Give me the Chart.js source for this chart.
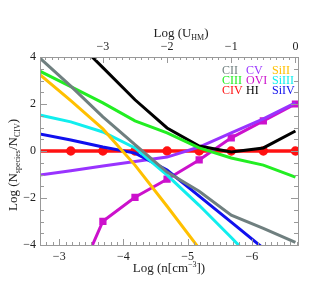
<!DOCTYPE html>
<html>
<head>
<meta charset="utf-8">
<script src="https://cdn.jsdelivr.net/npm/chart.js@4/dist/chart.umd.min.js"></script>
<style>
  html, body { margin: 0; padding: 0; background: #fff; }
  #wrap { width: 330px; height: 284px; }
</style>
</head>
<body>
<div id="wrap"><canvas id="chart"></canvas></div>
<script>
// Log U grid the curves are sampled on
const logU = [-4, -3.5, -3, -2.5, -2, -1.5, -1, -0.5, 0];

const cII   = [4.0, 2.76, 1.45, 0.27, -0.9, -1.71, -2.73, -3.29, -3.89];
const cIII  = [3.42, 2.74, 2.05, 1.28, 0.77, 0.13, -0.3, -0.6, -1.11];
const cIV   = [0, 0, 0, 0, 0, 0, 0, 0, 0];
const cV    = [-1.03, -0.84, -0.64, -0.45, -0.26, 0.17, 0.77, 1.37, 2.05];
const oVI   = [null, -6.1, -2.99, -1.97, -1.2, -0.38, 0.56, 1.28, 2.0];
const hI    = [null, 4.9, 3.55, 2.18, 0.98, 0.21, -0.04, 0.13, 0.85];
const siII  = [3.29, 2.14, 0.94, -0.6, -2.35, -4.15, null, null, null];
const siIII = [1.54, 1.24, 0.81, 0.13, -1.03, -2.31, -3.68, -5.1, null];
const siIV  = [0.73, 0.47, 0.17, -0.09, -0.81, -1.92, -3.03, -4.14, null];

const nTicks = [-3, -4, -5, -6];
const uTicks = [-3, -2, -1, 0];
const yTicks = [-4, -2, 0, 2, 4];

const serif = '"Liberation Serif", "DejaVu Serif", serif';
const frame = '#999999';

function pts(vals) {
  return logU.map((u, i) => ({ x: u, y: vals[i] }));
}
function minus(v) {
  return v < 0 ? '\u2212' + Math.abs(v) : String(v);
}

const series = [
  { label: 'CII', data: cII, color: '#6f7f7f' },
  { label: 'CIII', data: cIII, color: '#22ee22' },
  { label: 'SiII', data: siII, color: '#ffc000' },
  { label: 'SiIII', data: siIII, color: '#11eeee' },
  { label: 'SiIV', data: siIV, color: '#1010ee' },
  { label: 'HI', data: hI, color: '#000000' },
  { label: 'CV', data: cV, color: '#9933ff' },
  { label: 'OVI', data: oVI, color: '#cc11cc', marker: 'rect' },
  { label: 'CIV', data: cIV, color: '#ff1111', marker: 'circle' }
];

const datasets = series.map(s => ({
  label: s.label,
  data: pts(s.data),
  xAxisID: 'u',
  yAxisID: 'y',
  borderColor: s.color,
  backgroundColor: s.color,
  borderWidth: s.label === 'CIV' ? 3.5 : 3,
  pointStyle: s.marker || 'circle',
  pointRadius: s.marker ? logU.map((u, i) => (s.label === 'CIV' && i === 0) || s.data[i] === null ? 0 : 3) : 0,
  pointHoverRadius: 0,
  tension: 0,
  spanGaps: false
}));

// inward minor/major ticks, frame, titles and legend
const decor = {
  id: 'decor',
  afterDraw(chart) {
    const { ctx, chartArea: a } = chart;
    const sy = chart.scales.y, sn = chart.scales.n, su = chart.scales.u;
    ctx.save();
    ctx.strokeStyle = frame;
    ctx.lineWidth = 1;
    ctx.beginPath();
    for (let k = -8; k <= 8; k++) {
      const v = k / 2;
      const p = Math.round(sy.getPixelForValue(v)) + 0.5;
      const len = k % 4 === 0 ? 7 : 4;
      ctx.moveTo(a.left, p); ctx.lineTo(a.left + len, p);
      ctx.moveTo(a.right, p); ctx.lineTo(a.right - len, p);
    }
    for (let k = -67; k <= -27; k++) {
      const p = Math.round(sn.getPixelForValue(k / 10)) + 0.5;
      const len = k % 10 === 0 ? 6 : 3;
      ctx.moveTo(p, a.bottom); ctx.lineTo(p, a.bottom - len);
    }
    for (let k = -39; k <= 0; k++) {
      const p = Math.round(su.getPixelForValue(k / 10)) + 0.5;
      const len = k % 10 === 0 ? 6 : 3;
      ctx.moveTo(p, a.top); ctx.lineTo(p, a.top + len);
    }
    ctx.stroke();
    ctx.strokeRect(a.left + 0.5, a.top + 0.5, a.right - a.left, a.bottom - a.top);

    // axis titles
    ctx.fillStyle = '#222';
    ctx.textBaseline = 'alphabetic';
    function run(parts, x, y) {
      let cx = x;
      parts.forEach(([t, kind]) => {
        const size = kind ? 8 : 13;
        ctx.font = size + 'px ' + serif;
        const dy = kind === 'sub' ? 3 : kind === 'sup' ? -5 : 0;
        ctx.fillText(t, cx, y + dy);
        cx += ctx.measureText(t).width;
      });
      return cx - x;
    }
    function width(parts) {
      let w = 0;
      parts.forEach(([t, kind]) => {
        ctx.font = (kind ? 8 : 13) + 'px ' + serif;
        w += ctx.measureText(t).width;
      });
      return w;
    }
    ctx.textAlign = 'left';
    const top = [['Log (U'], ['HM', 'sub'], [')']];
    run(top, 181 - width(top) / 2, 37);
    const bot = [['Log (n[cm'], ['\u22123', 'sup'], ['])']];
    run(bot, 169 - width(bot) / 2, 272);
    const left = [['Log (N'], ['species', 'sub'], ['/N'], ['CIV', 'sub'], [')']];
    ctx.save();
    ctx.translate(17, 165);
    ctx.rotate(-Math.PI / 2);
    run(left, -width(left) / 2, 0);
    ctx.restore();

    // legend
    ctx.font = '12px ' + serif;
    const cols = [222, 246, 272];
    const rows = [74, 84, 94];
    const grid = [['CII', 'CV', 'SiII'], ['CIII', 'OVI', 'SiIII'], ['CIV', 'HI', 'SiIV']];
    grid.forEach((r, ri) => r.forEach((name, ci) => {
      ctx.fillStyle = series.find(s => s.label === name).color;
      ctx.fillText(name, cols[ci], rows[ri]);
    }));
    ctx.restore();
  }
};

new Chart(document.getElementById('chart'), {
  type: 'line',
  data: { datasets },
  options: {
    responsive: true,
    maintainAspectRatio: false,
    animation: false,
    layout: { padding: { left: 0, right: 32, top: 0, bottom: 0 } },
    plugins: { legend: { display: false }, tooltip: { enabled: false } },
    scales: {
      n: {
        type: 'linear', position: 'bottom', min: -6.72, max: -2.7, reverse: true,
        grid: { display: false, drawTicks: false }, border: { display: false },
        afterBuildTicks: s => { s.ticks = nTicks.map(v => ({ value: v })); },
        afterFit: s => { s.height = 39; },
        ticks: { padding: 5, color: '#222', font: { family: serif, size: 12 }, callback: v => minus(v), maxRotation: 0 }
      },
      u: {
        type: 'linear', position: 'top', min: -3.98, max: 0.04,
        grid: { display: false, drawTicks: false }, border: { display: false },
        afterBuildTicks: s => { s.ticks = uTicks.map(v => ({ value: v })); },
        afterFit: s => { s.height = 57; },
        ticks: { padding: 3, color: '#222', font: { family: serif, size: 12 }, callback: v => minus(v), maxRotation: 0 }
      },
      y: {
        type: 'linear', position: 'left', min: -4, max: 4,
        grid: { display: false, drawTicks: false }, border: { display: false },
        afterBuildTicks: s => { s.ticks = yTicks.map(v => ({ value: v })); },
        afterFit: s => { s.width = 40; },
        ticks: { padding: 4, color: '#222', font: { family: serif, size: 12 }, callback: v => minus(v) }
      }
    }
  },
  plugins: [decor]
});
</script>
</body>
</html>
